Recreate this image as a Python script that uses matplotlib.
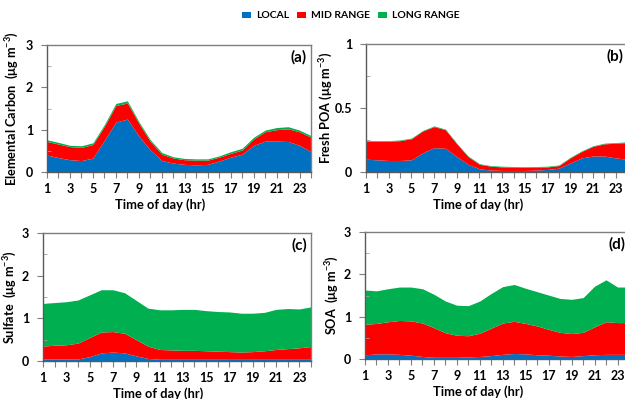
import matplotlib
matplotlib.use("Agg")
import matplotlib.pyplot as plt
from matplotlib.ticker import MultipleLocator, FuncFormatter
from matplotlib.patches import Patch
from matplotlib.font_manager import FontProperties
import numpy as np

plt.rcParams['font.family'] = ['Lato', 'DejaVu Sans']
plt.rcParams['mathtext.fontset'] = 'custom'
plt.rcParams['mathtext.rm'] = 'Lato:bold'
plt.rcParams['mathtext.bf'] = 'Lato:bold'
plt.rcParams['mathtext.it'] = 'Lato:bold'

hours = list(range(1, 25))
series_names = ["LOCAL", "MID RANGE", "LONG RANGE"]
colors = ["#0070C0", "#FF0000", "#00B050"]

# (a) Elemental Carbon - cumulative tops
ec_local = [0.40, 0.34, 0.29, 0.27, 0.33, 0.75, 1.18, 1.25, 0.85, 0.52, 0.27, 0.21,
            0.18, 0.17, 0.18, 0.26, 0.35, 0.42, 0.63, 0.73, 0.73, 0.72, 0.63, 0.48]
ec_mid_top = [0.72, 0.66, 0.60, 0.58, 0.65, 1.08, 1.57, 1.63, 1.15, 0.72, 0.42, 0.33,
              0.29, 0.28, 0.28, 0.35, 0.44, 0.52, 0.78, 0.95, 1.00, 1.02, 0.95, 0.82]
ec_long_top = [0.76, 0.70, 0.63, 0.62, 0.69, 1.12, 1.62, 1.68, 1.19, 0.76, 0.46, 0.36,
               0.32, 0.31, 0.31, 0.38, 0.48, 0.56, 0.82, 0.99, 1.05, 1.07, 0.99, 0.86]

# (b) Fresh POA
poa_local = [0.100, 0.095, 0.090, 0.090, 0.095, 0.150, 0.190, 0.185, 0.120, 0.060, 0.025, 0.015,
             0.012, 0.012, 0.012, 0.015, 0.020, 0.030, 0.070, 0.110, 0.125, 0.125, 0.110, 0.100]
poa_mid_top = [0.240, 0.240, 0.240, 0.245, 0.260, 0.320, 0.355, 0.330, 0.220, 0.120, 0.060, 0.045,
               0.040, 0.038, 0.036, 0.038, 0.040, 0.050, 0.110, 0.160, 0.200, 0.220, 0.225, 0.230]
poa_long_top = [0.245, 0.245, 0.245, 0.250, 0.265, 0.325, 0.360, 0.335, 0.225, 0.125, 0.065, 0.050,
                0.045, 0.043, 0.041, 0.043, 0.045, 0.055, 0.115, 0.165, 0.205, 0.225, 0.230, 0.235]

# (c) Sulfate
so4_local = [0.05, 0.05, 0.05, 0.05, 0.10, 0.19, 0.21, 0.19, 0.12, 0.06, 0.04, 0.04,
             0.04, 0.04, 0.04, 0.04, 0.04, 0.04, 0.04, 0.04, 0.04, 0.04, 0.04, 0.04]
so4_mid_top = [0.35, 0.37, 0.38, 0.42, 0.55, 0.68, 0.69, 0.65, 0.50, 0.35, 0.27, 0.26,
               0.25, 0.25, 0.24, 0.23, 0.22, 0.21, 0.22, 0.24, 0.27, 0.29, 0.31, 0.34]
so4_long_top = [1.35, 1.37, 1.39, 1.43, 1.55, 1.67, 1.67, 1.60, 1.42, 1.24, 1.20, 1.20,
                1.21, 1.21, 1.18, 1.16, 1.15, 1.12, 1.12, 1.14, 1.21, 1.23, 1.22, 1.27]

# (d) SOA
soa_local = [0.10, 0.12, 0.12, 0.11, 0.09, 0.06, 0.04, 0.04, 0.04, 0.05, 0.06, 0.08,
             0.11, 0.13, 0.12, 0.10, 0.09, 0.07, 0.06, 0.08, 0.10, 0.11, 0.11, 0.11]
soa_mid_top = [0.82, 0.84, 0.88, 0.91, 0.90, 0.85, 0.74, 0.62, 0.56, 0.55, 0.61, 0.73,
               0.85, 0.89, 0.84, 0.78, 0.70, 0.63, 0.60, 0.63, 0.76, 0.88, 0.86, 0.86]
soa_long_top = [1.63, 1.61, 1.66, 1.70, 1.70, 1.66, 1.53, 1.37, 1.27, 1.26, 1.37, 1.55,
                1.71, 1.76, 1.67, 1.59, 1.51, 1.43, 1.41, 1.45, 1.72, 1.87, 1.70, 1.70]

W, H = 625, 399
fig = plt.figure(figsize=(W / 100, H / 100), dpi=100)

def px_axes(left, top, right, bottom):
    return fig.add_axes([left / W, 1 - bottom / H, (right - left) / W, (bottom - top) / H])

panels = [
    dict(box=(47, 45, 311, 172), data=(ec_local, ec_mid_top, ec_long_top), ymax=3, major=1, minor=0.5,
         ylabel=r"Elemental Carbon  ($\mathbf{\mu}$g m$^{-3}$)", tag="(a)", ylabx=-0.1),
    dict(box=(366, 44, 627, 172), data=(poa_local, poa_mid_top, poa_long_top), ymax=1, major=0.5, minor=0.25,
         ylabel=r"Fresh POA ($\mathbf{\mu}$g m$^{-3}$)", tag="(b)", ylabx=-0.12),
    dict(box=(43, 233, 311, 361), data=(so4_local, so4_mid_top, so4_long_top), ymax=3, major=1, minor=0.5,
         ylabel=r"Sulfate  ($\mathbf{\mu}$g m$^{-3}$)", tag="(c)", ylabx=-0.088),
    dict(box=(365, 232, 629, 359), data=(soa_local, soa_mid_top, soa_long_top), ymax=3, major=1, minor=0.5,
         ylabel=r"SOA  ($\mathbf{\mu}$g m$^{-3}$)", tag="(d)", ylabx=-0.092),
]

for p in panels:
    ax = px_axes(*p["box"])
    loc, mid_top, long_top = [np.array(v) for v in p["data"]]
    ax.fill_between(hours, 0, loc, color=colors[0], linewidth=0)
    ax.fill_between(hours, loc, mid_top, color=colors[1], linewidth=0)
    ax.fill_between(hours, mid_top, long_top, color=colors[2], linewidth=0)
    ax.set_xlim(1, 24)
    ax.set_ylim(0, p["ymax"])
    ax.set_xticks(range(1, 25))
    ax.set_xticklabels([str(h) if h % 2 == 1 else "" for h in range(1, 25)])
    ax.yaxis.set_major_locator(MultipleLocator(p["major"]))
    ax.yaxis.set_minor_locator(MultipleLocator(p["minor"]))
    ax.yaxis.set_major_formatter(FuncFormatter(lambda v, pos: "{:g}".format(round(v, 3))))
    ax.tick_params(axis='x', which='major', direction='out', length=4, width=0.8, color='#7f7f7f',
                   labelsize=9, pad=4)
    ax.tick_params(axis='y', which='major', direction='out', length=4, width=0.8, color='#7f7f7f',
                   labelsize=9, pad=6)
    ax.tick_params(axis='y', which='minor', direction='in', length=3, width=0.6, color='#9f9f9f')
    for lab in ax.get_xticklabels() + ax.get_yticklabels():
        lab.set_fontweight('bold')
    for s in ax.spines.values():
        s.set_color('#7f7f7f')
        s.set_linewidth(1.0)
    ax.spines['left'].set_color('#5a5a5a')
    ax.spines['bottom'].set_color('#5a5a5a')
    ax.set_xlabel("Time of day (hr)", fontsize=9.3, fontweight='bold')
    ax.xaxis.set_label_coords(0.43, -0.205)
    ax.set_ylabel(p["ylabel"], fontsize=9.2, fontweight='bold')
    ax.yaxis.set_label_coords(p["ylabx"], 0.5)
    ax.text(0.985, 0.9, p["tag"], transform=ax.transAxes, ha='right', va='center',
            fontsize=11, fontweight='bold')

handles = [Patch(facecolor=c, edgecolor='none') for c in colors]
fig.legend(handles, series_names, loc='center', bbox_to_anchor=(351 / W, 1 - 16 / H), ncol=3,
           frameon=False, handlelength=0.8, handleheight=0.5, handletextpad=0.5, columnspacing=0.8,
           prop=FontProperties(family='Lato', weight='bold', size=7.5))

fig.savefig("out.png", dpi=100)
